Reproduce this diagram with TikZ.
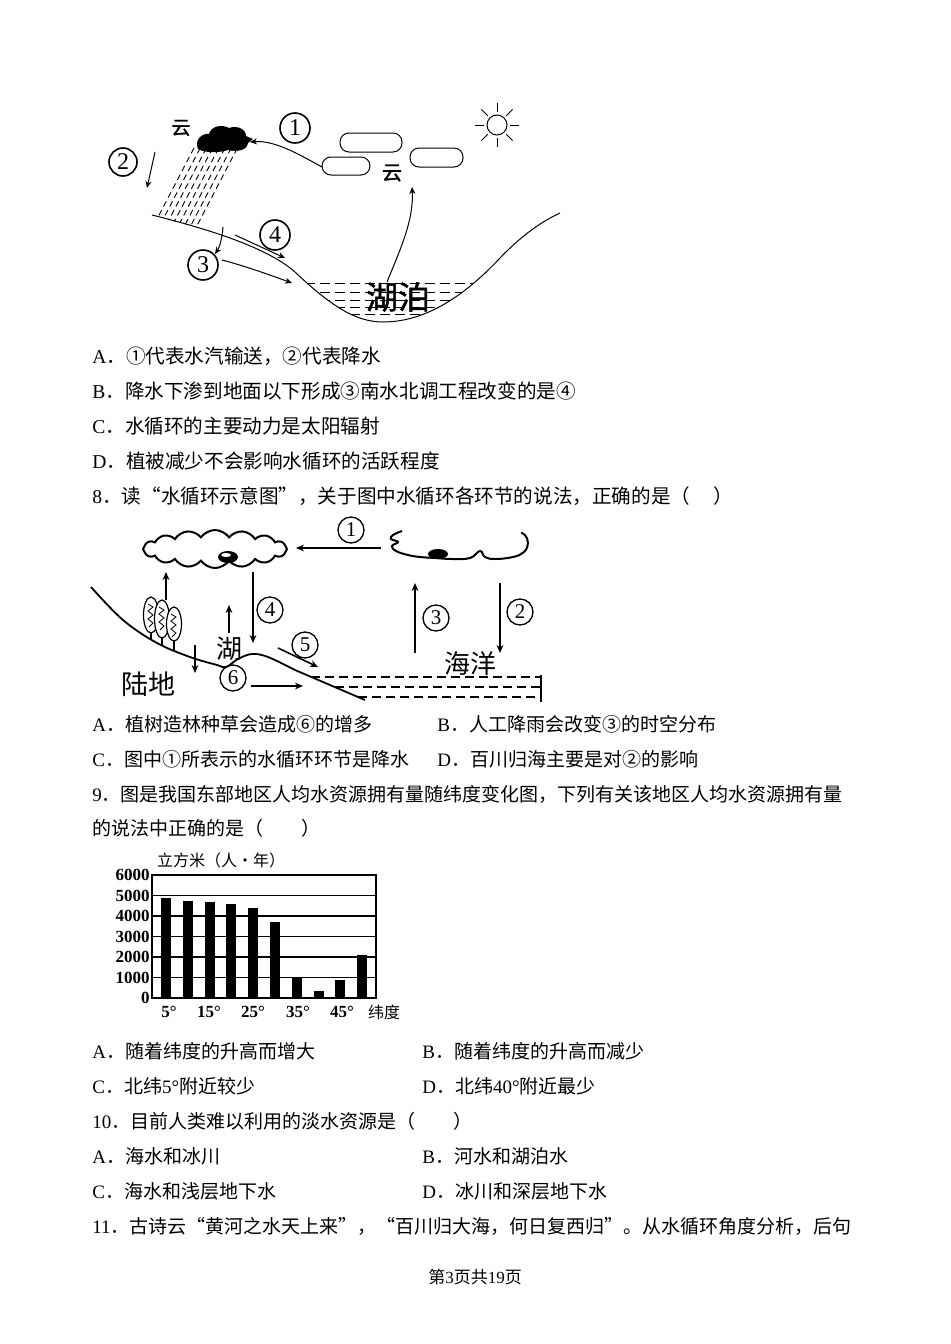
\documentclass[tikz,border=0pt]{standalone}
\usepackage{fontspec}
\setmainfont{Liberation Serif}
\newfontfamily\cjk{Noto Sans CJK SC}
\newfontfamily\cjkb[FakeBold=1.5]{Noto Sans CJK SC}
\usetikzlibrary{arrows.meta,shapes.symbols}
\newcommand\la[1]{{\rmfamily #1}}
\newcommand\mygroundA{(152,215) .. controls (220,232) and (270,250) .. (295,272) .. controls (330,305) and (355,322) .. (383,322) .. controls (430,322) and (470,290) .. (500,258) .. controls (525,232) and (545,220) .. (560,213)}
\begin{document}
\begin{tikzpicture}[x=0.5pt,y=-0.5pt,
  txt/.style={anchor=base west, inner sep=0pt, font=\cjk\fontsize{9.5}{11}\selectfont},
  txtw/.style={anchor=base west, inner sep=0pt, font=\cjk\fontsize{9.8}{11}\selectfont},
  arr/.style={-{Stealth[length=3.5pt,width=3pt]}, line width=0.5pt},
  arrb/.style={-{Stealth[length=4pt,width=3.4pt]}, line width=0.8pt},
  cnum/.style={circle, draw, line width=0.8pt, inner sep=0pt, minimum size=15pt, font=\fontsize{12}{12}\selectfont},
  cnums/.style={circle, draw, line width=0.65pt, inner sep=0pt, minimum size=13pt, font=\fontsize{10.5}{10.5}\selectfont},
  lbl/.style={inner sep=0pt, font=\cjkb\fontsize{10}{10}\selectfont},
  bigl/.style={inner sep=0pt, font=\cjk\fontsize{13}{13}\selectfont},
  rain/.style={line width=0.45pt, dash pattern=on 3pt off 2pt},
  lakedash/.style={line width=0.5pt, dash pattern=on 5pt off 2.5pt},
  odash/.style={line width=0.9pt, dash pattern=on 4.5pt off 2.5pt},
  ylab/.style={anchor=east, inner sep=0pt, font=\bfseries\fontsize{8.5}{8.5}\selectfont},
  xlab/.style={inner sep=0pt, font=\bfseries\fontsize{8.5}{8.5}\selectfont}
]
\fill[white] (0,0) rectangle (950,1344);
\useasboundingbox (0,0) rectangle (950,1344);

% ================= Diagram 1 =================
% black cloud
\fill[black] (198,149) .. controls (194,140) and (202,133) .. (209,134) .. controls (211,126) and (222,124) .. (229,128) .. controls (237,125) and (246,129) .. (246,136) -- (253,139) -- (248,143) .. controls (247,151) and (236,152) .. (228,150) .. controls (220,153) and (204,153) .. (198,149) -- cycle;
\node[lbl, font=\cjkb\fontsize{9.5}{9.5}\selectfont] (yunA) at (181,128) {云};
% rain
\foreach \i in {0,...,7} {
  \pgfmathsetmacro\xo{194+6.2*\i}
  \pgfmathsetmacro\tt{(68+0.25*(\xo-152))/82.5}
  \draw[rain] (\xo,148) -- ({\xo-38*\tt},{148+73*\tt});
}
% white clouds
\draw[line width=0.5pt, fill=white, rounded corners=4.5pt] (340,133) rectangle (402,152);
\draw[line width=0.5pt, fill=white, rounded corners=4.5pt] (322,157) rectangle (370,175);
\draw[line width=0.5pt, fill=white, rounded corners=4.5pt] (410,148) rectangle (463,167);
\node[lbl] (yunB) at (392,173) {云};
% sun
\draw[line width=0.5pt] (497,125) circle (10);
\foreach \a in {0,45,...,315} \draw[line width=0.5pt] (497,125) ++(\a:13) -- ++(\a:9);
% ground and lake
\begin{scope}
  \clip \mygroundA -- cycle;
  \foreach \yy in {283,292,300,307,314} \draw[lakedash] (290,\yy) -- (490,\yy);
\end{scope}
\draw[line width=0.5pt] \mygroundA;
\node[inner sep=0pt, font=\cjkb\fontsize{16}{16}\selectfont] (hupo) at (398,297) {湖泊};
% labels
\node[cnum] (cA1) at (295,128) {1};
\node[cnum, minimum size=14pt] (cA2) at (123,162) {2};
\node[cnum] (cA3) at (203,265) {3};
\node[cnum] (cA4) at (275,235) {4};
% arrows
\coordinate (a1s) at (322,167); \coordinate (a1e) at (250,142);
\draw[arr] (a1s) .. controls (300,155) and (275,140) .. (a1e);
\coordinate (a2s) at (155,152); \coordinate (a2e) at (147,188);
\draw[arr] (a2s) -- (a2e);
\coordinate (evs) at (387,282); \coordinate (eve) at (412,187);
\draw[arr] (evs) .. controls (400,250) and (414,220) .. (eve);
\coordinate (ins) at (223,227); \coordinate (ine) at (215,254);
\draw[arr] (ins) .. controls (222,240) and (219,248) .. (ine);
\coordinate (a4s) at (235,235); \coordinate (a4e) at (285,258);
\draw[arr] (a4s) -- (a4e);
\coordinate (a3s) at (222,260); \coordinate (a3e) at (292,283);
\draw[arr] (a3s) .. controls (245,266) and (270,275) .. (a3e);

% ================= Text Q7 options, Q8 =================
\node[txtw] (q7a) at (92,363) {\la{A}．①代表水汽输送，②代表降水};
\node[txtw] (q7b) at (92,398) {\la{B}．降水下渗到地面以下形成③南水北调工程改变的是④};
\node[txtw] (q7c) at (92,433) {\la{C}．水循环的主要动力是太阳辐射};
\node[txtw] (q7d) at (92,468) {\la{D}．植被减少不会影响水循环的活跃程度};
\node[txtw] (q8) at (92,503) {\la{8}．读“水循环示意图”，关于图中水循环各环节的说法，正确的是（\hspace{1.2em}）};

% ================= Diagram 2 =================
\node[cloud, draw, line width=1pt, cloud puffs=16, cloud puff arc=110, aspect=3.8, minimum width=72pt, minimum height=19pt, inner sep=0pt] (cloudL) at (215,549) {};
\fill[black] (228,557) ellipse [x radius=10, y radius=6];
\fill[white] (226,555) ellipse [x radius=5, y radius=2];
\draw[line width=1pt] plot[smooth, tension=0.7] coordinates {(402,531) (393,535) (391,539) (398,542) (392,546) (396,551) (408,555) (420,557) (435,558) (452,559) (470,558) (480,551) (485,557) (495,559) (513,557) (524,552) (528,543) (525,535) (521,533)};
\fill[black] (438,554) ellipse [x radius=10, y radius=5];
% ground
\draw[line width=0.9pt] plot[smooth, tension=0.6] coordinates {(91,587) (123,620) (157,643) (190,657) (217,665) (226,667) (238,659) (252,654) (268,657) (295,670)} -- (365,700);
% trees
\foreach \cx/\cy/\ry/\gy in {151/615/18/639, 162/619/19/646, 174/624/17/650} {
  \draw[line width=0.6pt] (\cx,\cy+\ry) -- (\cx,\gy);
  \draw[fill=white, line width=0.6pt] (\cx,\cy) ellipse [x radius=7.5, y radius=\ry];
  \draw[line width=0.4pt] (\cx-3,\cy-\ry+7) -- (\cx+2,\cy-\ry+10) -- (\cx-3,\cy-\ry+14) -- (\cx+2,\cy-\ry+18) -- (\cx-3,\cy-\ry+22) -- (\cx+2,\cy-\ry+26) -- (\cx-2,\cy-\ry+30);
}
% ocean
\draw[odash] (311,677) -- (541,677);
\draw[odash] (335,687) -- (541,687);
\draw[odash] (358,697) -- (541,697);
\draw[line width=0.8pt] (541,675) -- (541,702);
% labels
\node[bigl, font=\cjk\fontsize{13.5}{13.5}\selectfont] (ludi) at (148,684) {陆地};
\node[bigl] (hu) at (229,649) {湖};
\node[bigl] (haiyang) at (470,664) {海洋};
\node[cnums] (cB1) at (351,530) {1};
\node[cnums] (cB2) at (520,612) {2};
\node[cnums] (cB3) at (436,618) {3};
\node[cnums] (cB4) at (270,610) {4};
\node[cnums] (cB5) at (305,645) {5};
\node[cnums] (cB6) at (233,678) {6};
% arrows
\coordinate (b1s) at (381,548); \coordinate (b1e) at (296,548);
\draw[arrb] (b1s) -- (b1e);
\coordinate (bts) at (166,600); \coordinate (bte) at (166,572);
\draw[arrb] (bts) -- (bte);
\coordinate (b4s) at (253,572); \coordinate (b4e) at (253,643);
\draw[arrb] (b4s) -- (b4e);
\coordinate (bls) at (229,633); \coordinate (ble) at (229,605);
\draw[arrb] (bls) -- (ble);
\coordinate (bis) at (195,645); \coordinate (bie) at (195,673);
\draw[arrb] (bis) -- (bie);
\coordinate (b5s) at (278,648); \coordinate (b5e) at (318,667);
\draw[arrb] (b5s) -- (b5e);
\coordinate (b6s) at (251,686); \coordinate (b6e) at (303,686);
\draw[arrb] (b6s) -- (b6e);
\coordinate (b3s) at (415,653); \coordinate (b3e) at (415,583);
\draw[arrb] (b3s) -- (b3e);
\coordinate (b2s) at (500,583); \coordinate (b2e) at (500,653);
\draw[arrb] (b2s) -- (b2e);

% ================= Q8 options, Q9 =================
\node[txt] (q8a) at (92,731) {\la{A}．植树造林种草会造成⑥的增多};
\node[txt] (q8b) at (437,731) {\la{B}．人工降雨会改变③的时空分布};
\node[txt] (q8c) at (92,766) {\la{C}．图中①所表示的水循环环节是降水};
\node[txt] (q8d) at (437,766) {\la{D}．百川归海主要是对②的影响};
\node[txt] (q9) at (92,801) {\la{9}．图是我国东部地区人均水资源拥有量随纬度变化图，下列有关该地区人均水资源拥有量};
\node[txt] (q9b) at (92,835) {的说法中正确的是（　　）};

% ================= Bar chart =================
\node[inner sep=0pt, font=\cjk\fontsize{8}{8}\selectfont] (ctitle) at (221,860) {立方米（人·年）};
\foreach \k in {1,...,5} \draw[line width=0.6pt] (152,{998-20.5*\k}) -- (376,{998-20.5*\k});
\foreach \v [count=\i from 0] in {4880,4730,4700,4590,4390,3700,980,340,880,2100}
  \fill[black] ({161+21.8*\i},998) rectangle ++(10,{-\v*0.0205});
\draw[line width=0.8pt] (152,875) rectangle (376,998);
\foreach \v [count=\k from 0] in {0,1000,2000,3000,4000,5000,6000}
  \node[ylab] at (150,{998-20.5*\k}) {\v};
\node[xlab] (x5) at (169,1012) {5°};
\node[xlab] (x15) at (209,1012) {15°};
\node[xlab] (x25) at (253,1012) {25°};
\node[xlab] (x35) at (298,1012) {35°};
\node[xlab] (x45) at (342,1012) {45°};
\node[inner sep=0pt, font=\cjk\fontsize{8}{8}\selectfont] (xwd) at (384,1012) {纬度};

% ================= Q9 options, Q10, Q11 =================
\node[txt] (q9o1) at (92,1058) {\la{A}．随着纬度的升高而增大};
\node[txt] (q9o2) at (422,1058) {\la{B}．随着纬度的升高而减少};
\node[txt] (q9o3) at (92,1093) {\la{C}．北纬\la{5°}附近较少};
\node[txt] (q9o4) at (422,1093) {\la{D}．北纬\la{40°}附近最少};
\node[txt] (q10) at (92,1128) {\la{10}．目前人类难以利用的淡水资源是（　　）};
\node[txt] (q10a) at (92,1163) {\la{A}．海水和冰川};
\node[txt] (q10b) at (422,1163) {\la{B}．河水和湖泊水};
\node[txt] (q10c) at (92,1198) {\la{C}．海水和浅层地下水};
\node[txt] (q10d) at (422,1198) {\la{D}．冰川和深层地下水};
\node[txt] (q11) at (92,1233) {\la{11}．古诗云“黄河之水天上来”，“百川归大海，何日复西归”。从水循环角度分析，后句};
\node[inner sep=0pt, font=\cjk\fontsize{8.5}{8.5}\selectfont] (footer) at (475,1277) {第\la{3}页共\la{19}页};
\end{tikzpicture}
\end{document}
